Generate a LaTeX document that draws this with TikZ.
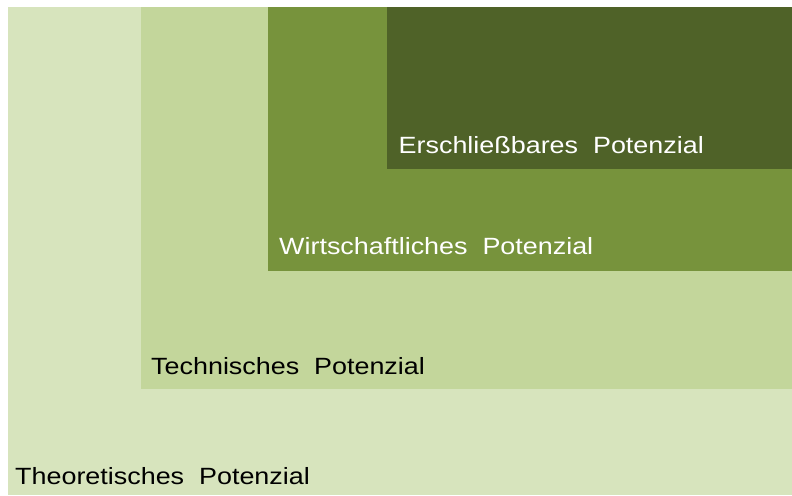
\documentclass[tikz,border=0pt]{standalone}
\usepackage{fontspec}
\setmainfont{Liberation Sans}
\definecolor{theo}{HTML}{D7E4BD}
\definecolor{tech}{HTML}{C3D69B}
\definecolor{wirt}{HTML}{77933C}
\definecolor{ersc}{HTML}{4F6228}
\tikzset{
  lbl/.style={anchor=base west, inner sep=0pt, font=\fontsize{23.5}{26}\selectfont},
  area/.style={draw=none}
}
\newcommand{\stretchtext}[1]{\scalebox{1.145}[1]{#1}}
\begin{document}
\begin{tikzpicture}[x=1pt,y=1pt]
\useasboundingbox (0,0) rectangle (792,495);
\fill[white] (0,0) rectangle (792,495);
\fill[area, theo] (8,0) rectangle (792,488);
\fill[area, tech] (140.5,105.5) rectangle (792,488);
\fill[area, wirt] (268,224) rectangle (792,488);
\fill[area, ersc] (387,326) rectangle (792,488);
\node[lbl, text=black] (theoL) at (15,10) {\stretchtext{Theoretisches\ \ Potenzial}};
\node[lbl, text=black] (techL) at (151,120.7) {\stretchtext{Technisches\ \ Potenzial}};
\node[lbl, text=white] (wirtL) at (279,240.3) {\stretchtext{Wirtschaftliches\ \ Potenzial}};
\node[lbl, text=white] (erscL) at (398.5,341) {\stretchtext{Erschließbares\ \ Potenzial}};
\end{tikzpicture}
\end{document}
